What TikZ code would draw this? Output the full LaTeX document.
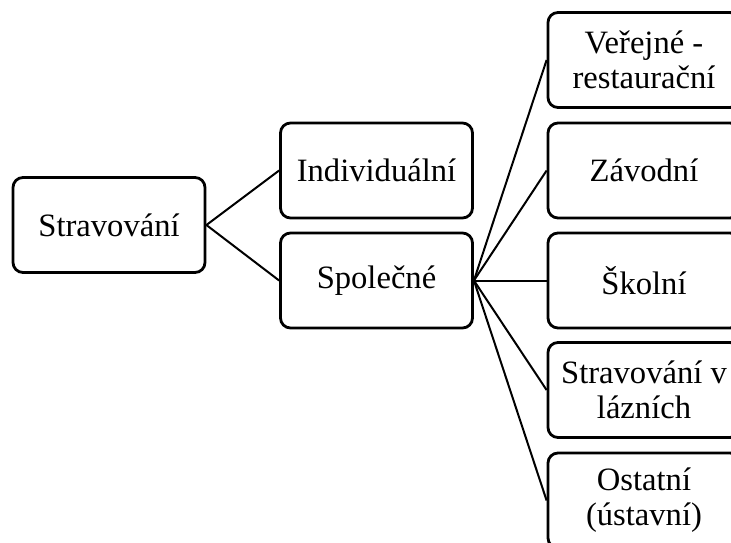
\documentclass[tikz,border=0pt]{standalone}
\usepackage{fontspec}
\setmainfont{Liberation Serif}

\begin{document}
\begin{tikzpicture}[x=0.5pt, y=-0.5pt,
    box/.style={draw, line width=1.4pt, rounded corners=5pt, align=center,
        minimum width=96pt, minimum height=47.5pt, inner sep=2pt,
        font=\fontsize{16.3}{17.5}\selectfont},
    link/.style={line width=1pt}]
        \useasboundingbox (0,0) rectangle (731,542);
        \clip (0,0) rectangle (731,542);

        \node[box] (strav) at (109,225) {Stravování};
        \node[box] (indiv) at (376.5,170.5) {Individuální};
        \node[box] (spol) at (376.5,280.5) {Společné};

        % pravy sloupec
        \node[box] (verej) at (644,60) {Veřejné -\\restaurační};
        \node[box] (zavod) at (644,170.5) {Závodní};
        \node[box] (skol) at (644,280.5) {Školní};
        \node[box] (lazne) at (644,390) {Stravování v\\lázních};
        \node[box] (ostat) at (644,500.5) {Ostatní\\(ústavní)};

        \draw[link] (strav.east) -- (indiv.west);
        \draw[link] (strav.east) -- (spol.west);
        \foreach \n in {verej,zavod,skol,lazne,ostat}
            \draw[link] (spol.east) -- (\n.west);

    \end{tikzpicture}
\end{document}
